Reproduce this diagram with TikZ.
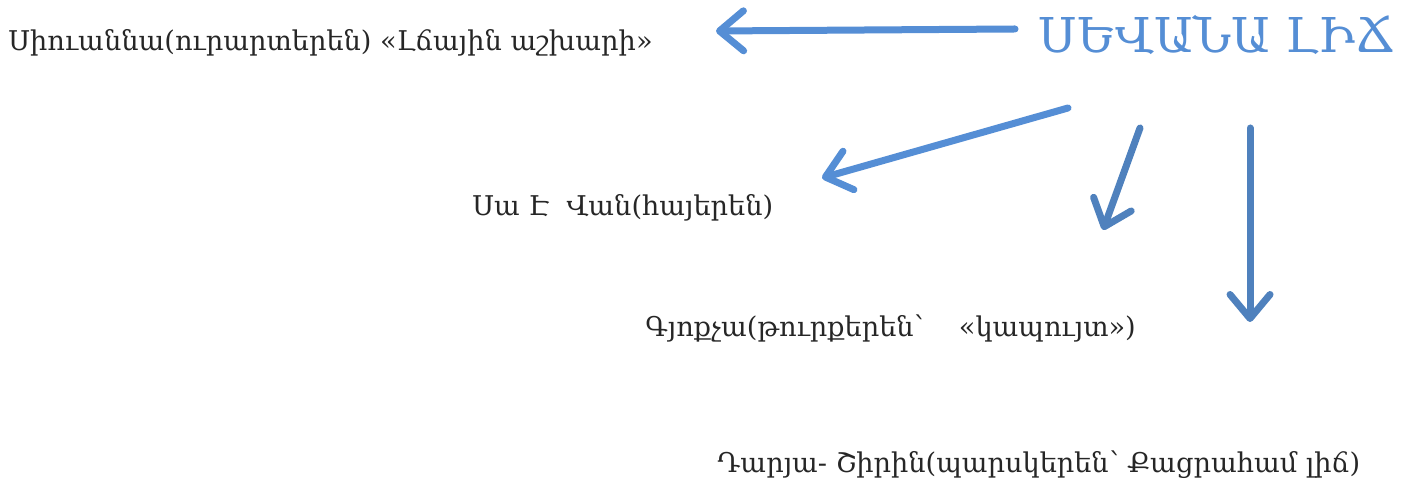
\documentclass[tikz,border=0pt]{standalone}
\usepackage{fontspec}
\setmainfont{DejaVu Serif}
\usetikzlibrary{arrows.meta}
\definecolor{lakeblue}{RGB}{85,142,213}
\definecolor{lakedark}{RGB}{79,129,189}
\definecolor{textgray}{RGB}{38,38,38}
\tikzset{bigarrow/.style = {line width=3.5pt, line cap=round, -{Straight Barb[length=12pt,width=20pt,round]}}}
\tikzset{ltext/.style = {text=textgray, font=\fontsize{13.6}{16}\selectfont, inner sep=0, anchor=west}}

\begin{document}
\begin{tikzpicture}[x=0.5pt,y=-0.5pt]
    \useasboundingbox (0,0) rectangle (1412,485);
    \node [anchor=east, text=lakeblue, font=\fontsize{24}{30}\selectfont, inner sep=0] (sevan) at (1396,35) {ՍԵՎԱՆԱ ԼԻՃ};
    \node [ltext] (siuanna) at (8,43) {Սիուաննա(ուրարտերեն) «Լճային աշխարի»};
    \node [ltext] (van) at (472,208) {Սա Է\ \ Վան(հայերեն)};
    \node [ltext] (gyokcha) at (645,328) {Գյոքչա(թուրքերեն՝\hspace{1.3em}«կապույտ»)};
    \node [ltext] (darya) at (717,465) {Դարյա- Շիրին(պարսկերեն՝ Քացրահամ լիճ)};
    % arrow ends
    \coordinate (s1) at (1015,29);  \coordinate (e1) at (716,31);
    \coordinate (s2) at (1068,108); \coordinate (e2) at (822,178);
    \coordinate (s3) at (1140,128); \coordinate (e3) at (1103,230);
    \coordinate (s4) at (1250,128); \coordinate (e4) at (1250,322);
    \draw [bigarrow, lakeblue] (s1) -- (e1);
    \draw [bigarrow, lakeblue] (s2) -- (e2);
    \draw [bigarrow, lakedark] (s3) -- (e3);
    \draw [bigarrow, lakedark] (s4) -- (e4);
\end{tikzpicture}
\end{document}
